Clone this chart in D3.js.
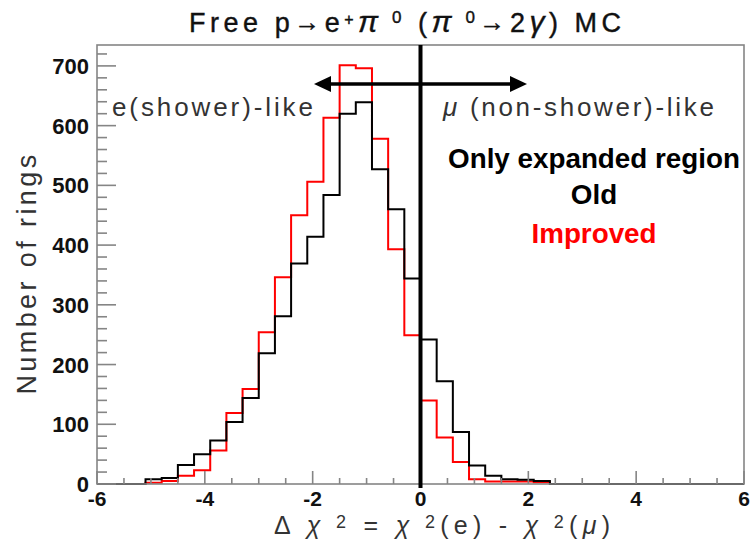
<!DOCTYPE html>
<html><head><meta charset="utf-8">
<script src="https://cdn.jsdelivr.net/npm/d3@7"></script>
<style>
html,body{margin:0;padding:0;background:#fff;}
svg{display:block;}
</style></head>
<body>
<svg id="chart" width="753" height="539"></svg>
<script>
// ---- data ----
const binEdges = [-6.0,-5.7,-5.4,-5.1,-4.8,-4.5,-4.2,-3.9,-3.6,-3.3,-3.0,-2.7,-2.4,-2.1,-1.8,-1.5,-1.2,-0.9,-0.6,-0.3,
  0.0,0.3,0.6,0.9,1.2,1.5,1.8,2.1,2.4,2.7,3.0,3.3,3.6,3.9,4.2,4.5,4.8,5.1,5.4,5.7,6.0];
const oldCounts = [0,0,0,8,10,32,50,73,104,144,219,281,369,414,484,620,639,527,460,344,
  242,172,87,31,14,8,7,5,0,0,0,0,0,0,0,0,0,0,0,0];
const improvedCounts = [0,0,0,2,5,14,23,56,119,159,254,346,450,506,613,701,696,578,393,249,
  140,78,37,8,4,4,4,3,0,0,0,0,0,0,0,0,0,0,0,0];
const xTicks = [-6,-4,-2,0,2,4,6];
const yTicks = [0,100,200,300,400,500,600,700];
const xDomain = [-6,6];
const yDomain = [0,735];

// ---- drawing ----
const svg = d3.select("#chart");
const x = d3.scaleLinear().domain(xDomain).range([97,744]);
const y = d3.scaleLinear().domain(yDomain).range([484,45]);
const gray = "#858585";
const ff = "'Liberation Sans', Arial, sans-serif";

// histograms
function stepPoints(counts){
  const pts = counts.map((c,i)=>[binEdges[i], c]);
  pts.push([binEdges[binEdges.length-1], counts[counts.length-1]]);
  return pts;
}
const line = d3.line().x(d=>x(d[0])).y(d=>y(d[1])).curve(d3.curveStepAfter);
svg.append("path").attr("d", line(stepPoints(improvedCounts)))
  .attr("fill","none").attr("stroke","#ff0000").attr("stroke-width",2);
svg.append("path").attr("d", line(stepPoints(oldCounts)))
  .attr("fill","none").attr("stroke","#000").attr("stroke-width",2);

// frame
svg.append("rect").attr("x",x(-6)).attr("y",y(735)).attr("width",x(6)-x(-6)).attr("height",y(0)-y(735))
  .attr("fill","none").attr("stroke",gray).attr("stroke-width",1.6);

// x ticks (ticks point up inside)
const xMinor = d3.range(-6,6.001,0.5);
svg.append("g").selectAll("line").data(xMinor).join("line")
  .attr("x1",d=>x(d)).attr("x2",d=>x(d))
  .attr("y1",y(0)).attr("y2",d=> Math.abs(d%2)<1e-9 ? y(0)-13 : y(0)-6)
  .attr("stroke",gray).attr("stroke-width",1.6);
svg.append("g").selectAll("text").data(xTicks).join("text")
  .attr("x",d=>x(d)).attr("y",506).attr("text-anchor","middle")
  .attr("font-family",ff).attr("font-weight","bold").attr("font-size",21).attr("fill","#111")
  .text(d=>d);

// y ticks
const yMinor = d3.range(0,735,20);
svg.append("g").selectAll("line").data(yMinor).join("line")
  .attr("x1",x(-6)).attr("x2",d=> d%100===0 ? x(-6)+19 : x(-6)+10)
  .attr("y1",d=>y(d)).attr("y2",d=>y(d))
  .attr("stroke",gray).attr("stroke-width",1.6);
svg.append("g").selectAll("text").data(yTicks).join("text")
  .attr("x",89).attr("y",d=>y(d)+8).attr("text-anchor","end")
  .attr("font-family",ff).attr("font-weight","bold").attr("font-size",22).attr("fill","#111")
  .text(d=>d);

// vertical line at 0
svg.append("line").attr("x1",x(0)).attr("x2",x(0)).attr("y1",y(735)).attr("y2",y(0)+4)
  .attr("stroke","#000").attr("stroke-width",4);

// double arrow
const ay = 84, ax1 = 314, ax2 = 527;
svg.append("line").attr("x1",ax1+12).attr("x2",ax2-12).attr("y1",ay).attr("y2",ay)
  .attr("stroke","#000").attr("stroke-width",3.5);
svg.append("path").attr("d",`M${ax1},${ay} L${ax1+17},${ay-8} L${ax1+17},${ay+8} Z`).attr("fill","#000");
svg.append("path").attr("d",`M${ax2},${ay} L${ax2-17},${ay-8} L${ax2-17},${ay+8} Z`).attr("fill","#000");

// region labels
svg.append("text").attr("x",112).attr("y",116)
  .attr("font-family",ff).attr("font-size",26).attr("letter-spacing",2.9).attr("fill","#333")
  .text("e(shower)-like");
const mu = svg.append("text").attr("x",443).attr("y",116)
  .attr("font-family",ff).attr("font-size",26).attr("letter-spacing",2.7).attr("fill","#333");
mu.append("tspan").attr("font-style","italic").text("μ");
mu.append("tspan").text(" (non-shower)-like");

// legend text
svg.append("text").attr("x",594).attr("y",168).attr("text-anchor","middle")
  .attr("font-family",ff).attr("font-weight","bold").attr("font-size",27.8).attr("fill","#000")
  .text("Only expanded region");
svg.append("text").attr("x",594).attr("y",204).attr("text-anchor","middle")
  .attr("font-family",ff).attr("font-weight","bold").attr("font-size",27.8).attr("fill","#000")
  .text("Old");
svg.append("text").attr("x",594).attr("y",243).attr("text-anchor","middle")
  .attr("font-family",ff).attr("font-weight","bold").attr("font-size",27.8).attr("fill","#ff0000")
  .text("Improved");

// title
const t = svg.append("text").attr("x",405).attr("y",32).attr("text-anchor","middle")
  .attr("textLength",432).attr("lengthAdjust","spacing")
  .attr("font-family",ff).attr("font-size",27).attr("fill","#111")
  .attr("stroke","#111").attr("stroke-width",0.4);
t.append("tspan").text("Free p");
t.append("tspan").attr("font-size",26).attr("dy",-1).text("→");
t.append("tspan").attr("dy",1).text("e");
t.append("tspan").attr("font-size",16).attr("dy",-7).text("+");
t.append("tspan").attr("dy",7).attr("font-style","italic").attr("font-size",30).text("π");
t.append("tspan").attr("font-size",17).attr("dy",-9).text(" 0");
t.append("tspan").attr("dy",9).text(" (");
t.append("tspan").attr("font-style","italic").attr("font-size",30).text("π");
t.append("tspan").attr("font-size",17).attr("dy",-9).text(" 0");
t.append("tspan").attr("font-size",26).attr("dy",8).text("→");
t.append("tspan").attr("dy",1).text("2");
t.append("tspan").attr("font-style","italic").attr("font-size",30).text("γ");
t.append("tspan").text(") MC");

// axis titles
const xt = svg.append("text").attr("x",442).attr("y",533.5).attr("text-anchor","middle")
  .attr("textLength",336).attr("lengthAdjust","spacing")
  .attr("font-family",ff).attr("font-size",25).attr("fill","#333");
xt.append("tspan").text("Δ ");
xt.append("tspan").attr("font-style","italic").text("χ");
xt.append("tspan").attr("font-size",18).attr("dy",-6).text(" 2");
xt.append("tspan").attr("dy",6).text(" =  ");
xt.append("tspan").attr("font-style","italic").text("χ");
xt.append("tspan").attr("font-size",18).attr("dy",-6).text(" 2");
xt.append("tspan").attr("dy",6).text("(e) - ");
xt.append("tspan").attr("font-style","italic").text("χ");
xt.append("tspan").attr("font-size",18).attr("dy",-6).text(" 2");
xt.append("tspan").attr("dy",6).text("(");
xt.append("tspan").attr("font-style","italic").text("μ");
xt.append("tspan").text(")");

svg.append("text").attr("transform","translate(36,273) rotate(-90)").attr("text-anchor","middle")
  .attr("font-family",ff).attr("font-size",27).attr("letter-spacing",3.4).attr("fill","#333")
  .text("Number of rings");
</script>
</body></html>
